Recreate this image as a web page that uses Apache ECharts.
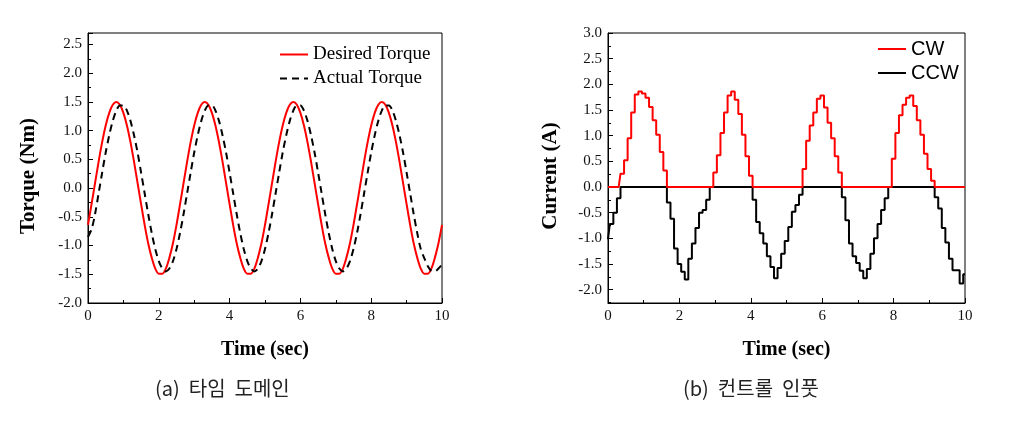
<!DOCTYPE html>
<html>
<head>
<meta charset="utf-8">
<script src="https://cdn.jsdelivr.net/npm/echarts@6/dist/echarts.min.js"></script>
<style>
html,body{margin:0;padding:0;background:#fff;}
#c{width:1020px;height:421px;}
</style>
</head>
<body>
<div id="c"></div>
<script>
// sample step of the time axis (s)
const dt = 0.1;
// (a) torque, Nm, sampled every 0.1 s from 0 to 10 s
const desiredTorque = [
 -0.64,-0.28,0.09,0.46,0.80,1.09,1.31,1.45,1.50,1.45,1.31,1.09,0.80,0.46,0.09,-0.28,-0.64,-0.96,-1.21,-1.40,-1.49,-1.49,-1.40,-1.21,-0.96,
 -0.64,-0.28,0.09,0.46,0.80,1.09,1.31,1.45,1.50,1.45,1.31,1.09,0.80,0.46,0.09,-0.28,-0.64,-0.96,-1.21,-1.40,-1.49,-1.49,-1.40,-1.21,-0.96,
 -0.64,-0.28,0.09,0.46,0.80,1.09,1.31,1.45,1.50,1.45,1.31,1.09,0.80,0.46,0.09,-0.28,-0.64,-0.96,-1.21,-1.40,-1.49,-1.49,-1.40,-1.21,-0.96,
 -0.64,-0.28,0.09,0.46,0.80,1.09,1.31,1.45,1.50,1.45,1.31,1.09,0.80,0.46,0.09,-0.28,-0.64,-0.96,-1.21,-1.40,-1.49,-1.49,-1.40,-1.21,-0.96,
 -0.64
];
const actualTorque = [
 -0.85,-0.72,-0.45,-0.09,0.27,0.62,0.92,1.17,1.35,1.44,1.44,1.35,1.17,0.92,0.62,0.27,-0.09,-0.45,-0.78,-1.06,-1.27,-1.40,-1.45,-1.40,-1.27,
 -1.06,-0.78,-0.45,-0.09,0.27,0.62,0.92,1.17,1.35,1.44,1.44,1.35,1.17,0.92,0.62,0.27,-0.09,-0.45,-0.78,-1.06,-1.27,-1.40,-1.45,-1.40,-1.27,
 -1.06,-0.78,-0.45,-0.09,0.27,0.62,0.92,1.17,1.35,1.44,1.44,1.35,1.17,0.92,0.62,0.27,-0.09,-0.45,-0.78,-1.06,-1.27,-1.40,-1.45,-1.40,-1.27,
 -1.06,-0.78,-0.45,-0.09,0.27,0.62,0.92,1.17,1.35,1.44,1.44,1.35,1.17,0.92,0.62,0.27,-0.09,-0.45,-0.78,-1.06,-1.22,-1.36,-1.44,-1.45,-1.40,
 -1.33
];
// (b) current, A, sampled every 0.1 s from 0 to 10 s
const cwCurrent = [
 0,0,0,0,0.26,0.52,0.95,1.45,1.80,1.86,1.82,1.74,1.56,1.30,1.02,0.68,0.32,
 0,0,0,0,0,0,0,0,0,0,0,0,0,
 0.28,0.62,1.05,1.45,1.78,1.86,1.70,1.42,1.02,0.60,0.22,
 0,0,0,0,0,0,0,0,0,0,0,0,0,0,
 0.35,0.90,1.20,1.45,1.72,1.78,1.55,1.25,0.95,0.60,0.28,
 0,0,0,0,0,0,0,0,0,0,0,0,0,0,
 0.55,1.05,1.40,1.60,1.74,1.78,1.58,1.30,1.02,0.65,0.35,0.12,
 0,0,0,0,0,0,0,0,0
];
const ccwCurrent = [
 -1.02,-0.72,-0.50,-0.22,0,
 0,0,0,0,0,0,0,0,0,0,0,0,
 -0.30,-0.62,-1.20,-1.50,-1.65,-1.80,-1.40,-1.10,-0.80,-0.50,-0.45,-0.25,0,
 0,0,0,0,0,0,0,0,0,0,0,
 -0.25,-0.68,-0.90,-1.10,-1.35,-1.56,-1.78,-1.58,-1.30,-1.05,-0.78,-0.48,-0.35,-0.15,0,
 0,0,0,0,0,0,0,0,0,0,
 -0.20,-0.65,-1.10,-1.35,-1.48,-1.63,-1.78,-1.60,-1.30,-1.00,-0.72,-0.45,-0.22,0,
 0,0,0,0,0,0,0,0,0,0,0,0,
 -0.20,-0.42,-0.80,-1.08,-1.40,-1.62,-1.62,-1.88,-1.70
];
const xTicksMax = 10;
const torqueRange = [-2.0, 2.7];
const currentRange = [-2.26, 3.0];
const labels = {
  torqueY: 'Torque (Nm)', currentY: 'Current (A)', x: 'Time (sec)',
  capA: '(a)  타임  도메인', capB: '(b)  컨트롤  인풋',
  desired: 'Desired Torque', actual: 'Actual Torque', cw: 'CW', ccw: 'CCW'
};

const pairs = arr => arr.map((v, i) => [Math.round(i * dt * 10) / 10, v]);

const serif = '"Liberation Serif","Times New Roman",serif';
const tickLabel = { fontFamily: serif, fontSize: 15, color: '#111' };
const axisNameStyle = { fontFamily: serif, fontSize: 21, fontWeight: 'bold', color: '#000', padding: [0, 16, 0, 0] };

function xAxis(gi) {
  return {
    type: 'value', gridIndex: gi, min: 0, max: xTicksMax, interval: 2,
    axisLine: { show: true, onZero: false, lineStyle: { color: '#000', width: 1 } },
    axisTick: { show: true, inside: true, length: 5, lineStyle: { color: '#000' } },
    minorTick: { show: true, splitNumber: 2, length: 3, lineStyle: { color: '#000' } },
    axisLabel: Object.assign({ margin: 6 }, tickLabel),
    splitLine: { show: false },
    name: labels.x, nameLocation: 'middle', nameGap: 37,
    nameTextStyle: { fontFamily: serif, fontSize: 20, fontWeight: 'bold', color: '#000' }
  };
}
function yAxis(gi, range, name, gap, opts) {
  return Object.assign({
    type: 'value', gridIndex: gi, min: range[0], max: range[1],
    axisLine: { show: true, onZero: false, lineStyle: { color: '#000', width: 1 } },
    axisTick: { show: true, inside: true, length: 5, lineStyle: { color: '#000' } },
    minorTick: { show: true, splitNumber: 2, length: 3, lineStyle: { color: '#000' } },
    splitLine: { show: false },
    name: name, nameLocation: 'middle', nameRotate: 90, nameGap: gap, nameTextStyle: axisNameStyle
  }, opts);
}

const chart = echarts.init(document.getElementById('c'), null, { renderer: 'canvas' });
chart.setOption({
  animation: false,
  backgroundColor: '#fff',
  grid: [
    { left: 88, top: 33, width: 354, height: 270, show: true, borderColor: '#000', borderWidth: 1, backgroundColor: 'transparent' },
    { left: 608, top: 33, width: 357, height: 270, show: true, borderColor: '#000', borderWidth: 1, backgroundColor: 'transparent' }
  ],
  xAxis: [xAxis(0), xAxis(1)],
  yAxis: [
    yAxis(0, torqueRange, labels.torqueY, 49, { interval: 0.5, axisLabel: Object.assign({ margin: 6, showMaxLabel: false, formatter: v => v.toFixed(1) }, tickLabel) }),
    yAxis(1, currentRange, labels.currentY, 47, { splitNumber: 10, axisLabel: Object.assign({ margin: 6, showMinLabel: false, formatter: v => v.toFixed(1) }, tickLabel) })
  ],
  title: [
    { text: labels.capA, left: 150, top: 373, textStyle: { fontFamily: '"Noto Sans CJK KR"', fontSize: 20, fontWeight: 'normal', color: '#222' } },
    { text: labels.capB, left: 678, top: 373, textStyle: { fontFamily: '"Noto Sans CJK KR"', fontSize: 20, fontWeight: 'normal', color: '#222' } }
  ],
  legend: [
    { data: [labels.desired, labels.actual], orient: 'vertical', left: 274, top: 40, itemWidth: 28, itemHeight: 14, itemGap: 5,
      itemStyle: { opacity: 0 },
      textStyle: { fontFamily: serif, fontSize: 19, color: '#000' } },
    { data: [labels.cw, labels.ccw], orient: 'vertical', left: 872, top: 34, itemWidth: 28, itemHeight: 14, itemGap: 4,
      itemStyle: { opacity: 0 },
      textStyle: { fontFamily: '"Liberation Sans",Arial,sans-serif', fontSize: 20, color: '#000' } }
  ],
  series: [
    { name: labels.desired, type: 'line', xAxisIndex: 0, yAxisIndex: 0, data: pairs(desiredTorque), symbol: 'none', smooth: 0.3,
      lineStyle: { color: '#ff0000', width: 2 }, itemStyle: { color: '#ff0000' }, z: 3 },
    { name: labels.actual, type: 'line', xAxisIndex: 0, yAxisIndex: 0, data: pairs(actualTorque), symbol: 'none', smooth: 0.3,
      lineStyle: { color: '#000', width: 2, type: [7, 5] }, itemStyle: { color: '#000' }, z: 4 },
    { name: labels.cw, type: 'line', xAxisIndex: 1, yAxisIndex: 1, data: pairs(cwCurrent), symbol: 'none', step: 'middle',
      lineStyle: { color: '#ff0000', width: 2 }, itemStyle: { color: '#ff0000' }, z: 4 },
    { name: labels.ccw, type: 'line', xAxisIndex: 1, yAxisIndex: 1, data: pairs(ccwCurrent), symbol: 'none', step: 'middle',
      lineStyle: { color: '#000', width: 2 }, itemStyle: { color: '#000' }, z: 3 }
  ]
});
</script>
</body>
</html>
